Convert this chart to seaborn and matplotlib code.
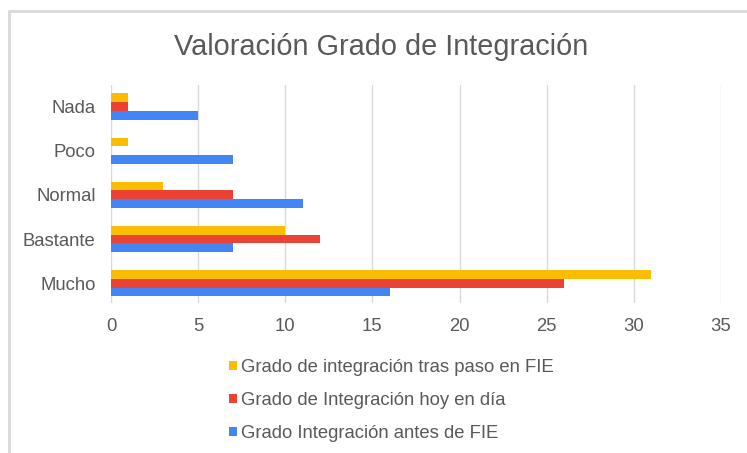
import pandas as pd
import matplotlib.pyplot as plt
import seaborn as sns
from matplotlib.patches import Patch
from matplotlib.lines import Line2D

sns.set_style("white")
plt.rcParams['font.family'] = ['Liberation Sans', 'DejaVu Sans']

# Datos del gráfico
categorias = ['Nada', 'Poco', 'Normal', 'Bastante', 'Mucho']
series = ['Grado de integración tras paso en FIE',
          'Grado de Integración hoy en día',
          'Grado Integración antes de FIE']
tras_paso = [1, 1, 3, 10, 31]
hoy = [1, 0, 7, 12, 26]
antes = [5, 7, 11, 7, 16]
colores = ['#FBBC04', '#EA4335', '#4285F4']
ticks_x = [0, 5, 10, 15, 20, 25, 30, 35]

data = pd.DataFrame({
    'categoria': categorias * 3,
    'serie': [series[0]] * 5 + [series[1]] * 5 + [series[2]] * 5,
    'valor': tras_paso + hoy + antes,
})

fig = plt.figure(figsize=(7.47, 4.53), dpi=100)
W, H = 747, 453
ax = fig.add_axes([111 / W, 1 - 303 / H, (721 - 111) / W, (303 - 85) / H])

sns.barplot(data=data, y='categoria', x='valor', hue='serie', order=categorias,
            hue_order=series, palette=colores, width=0.6, gap=0,
            saturation=1, orient='h', ax=ax, legend=False, linewidth=0)

ax.set_xlim(0, 35)
ax.set_ylim(4.45, -0.49)
ax.set_xticks(ticks_x)
ax.set_xlabel('')
ax.set_ylabel('')
ax.grid(axis='x', color='#d9d9d9', linewidth=1)
ax.set_axisbelow(True)
for s in ax.spines.values():
    s.set_visible(False)
ax.tick_params(axis='both', length=0, labelsize=13.3, labelcolor='#595959')
ax.tick_params(axis='x', pad=11)
ax.tick_params(axis='y', pad=11)

fig.text(0.5 * (175 + 588) / W, 1 - 47 / H, 'Valoración Grado de Integración',
         ha='center', va='center', fontsize=20.8, color='#595959')

handles = [Patch(facecolor=c, edgecolor='none') for c in colores]
fig.legend(handles, series, loc='upper left', bbox_to_anchor=(229 / W, 1 - 359 / H),
           frameon=False, fontsize=13.3, handlelength=0.42, handleheight=0.42,
           handletextpad=0.25, labelspacing=0.87, borderpad=0, borderaxespad=0,
           labelcolor='#595959')

# Borde del gráfico
fig.add_artist(Line2D([9 / W, 9 / W], [0, 1 - 11 / H], color='#d9d9d9', linewidth=2))
fig.add_artist(Line2D([9 / W, 746 / W], [1 - 11 / H, 1 - 11 / H], color='#d9d9d9', linewidth=2))

fig.savefig('out.png', dpi=100)
